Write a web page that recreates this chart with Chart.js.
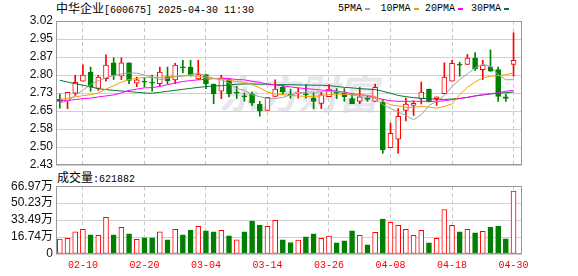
<!DOCTYPE html>
<html>
<head>
<meta charset="utf-8">
<script src="https://cdn.jsdelivr.net/npm/chart.js@4.4.1/dist/chart.umd.min.js"></script>
<style>
body { margin: 0; background: #fff; width: 578px; height: 276px; overflow: hidden; position: relative; }
.txt { position: absolute; white-space: nowrap; color: #000; line-height: 12px; }
.m { font-family: "Liberation Mono", monospace; font-size: 10px; }
.c { font-family: "Noto Sans CJK SC", sans-serif; font-size: 12px; }
.mk { position: absolute; width: 5px; height: 2px; }
#wm { position: absolute; left: 222px; top: 70px; font: bold 40px "Noto Sans CJK SC"; color: #e6e6ec; transform: skewX(-12deg); line-height: 44px; }
canvas { position: absolute; left: 0; }
</style>
</head>
<body>
<div id="wm">东方财富</div>
<div class="txt" style="left:56px;top:2px"><span class="c">中华企业</span><span class="m">[600675] 2025-04-30 11:30</span></div>
<div id="legend"></div>
<div class="txt" id="volTitle" style="left:57px;top:171px"></div>
<canvas id="priceChart" width="578" height="176" style="top:0"></canvas>
<canvas id="volChart" width="578" height="100" style="top:176px"></canvas>
<script>
// trading days 2025-02-05 .. 2025-04-30
var dates = ['02-05','02-06','02-07','02-10','02-11','02-12','02-13','02-14','02-17','02-18',
  '02-19','02-20','02-21','02-24','02-25','02-26','02-27','02-28','03-03','03-04',
  '03-05','03-06','03-07','03-10','03-11','03-12','03-13','03-14','03-17','03-18',
  '03-19','03-20','03-21','03-24','03-25','03-26','03-27','03-28','03-31','04-01',
  '04-02','04-03','04-07','04-08','04-09','04-10','04-11','04-14','04-15','04-16',
  '04-17','04-18','04-21','04-22','04-23','04-24','04-25','04-28','04-29','04-30'];

var open = [2.700, 2.693, 2.724, 2.773, 2.811, 2.744, 2.784, 2.849, 2.794, 2.849,
  2.765, 2.771, 2.770, 2.763, 2.792, 2.779, 2.831, 2.831, 2.783, 2.800,
  2.762, 2.732, 2.780, 2.729, 2.711, 2.721, 2.680, 2.654, 2.711, 2.748,
  2.720, 2.724, 2.721, 2.704, 2.682, 2.710, 2.729, 2.729, 2.702, 2.691,
  2.702, 2.691, 2.688, 2.501, 2.536, 2.654, 2.674, 2.702, 2.741, 2.702,
  2.722, 2.773, 2.842, 2.842, 2.868, 2.821, 2.832, 2.821, 2.709, 2.842];
var high = [2.721, 2.728, 2.798, 2.840, 2.831, 2.798, 2.881, 2.869, 2.869, 2.849,
  2.790, 2.787, 2.798, 2.831, 2.831, 2.847, 2.859, 2.859, 2.859, 2.800,
  2.762, 2.798, 2.780, 2.752, 2.725, 2.729, 2.691, 2.707, 2.779, 2.759,
  2.741, 2.746, 2.759, 2.725, 2.729, 2.759, 2.743, 2.743, 2.721, 2.748,
  2.715, 2.762, 2.698, 2.602, 2.661, 2.704, 2.693, 2.770, 2.741, 2.709,
  2.849, 2.859, 2.851, 2.883, 2.891, 2.859, 2.902, 2.831, 2.721, 2.972];
var low = [2.663, 2.661, 2.715, 2.773, 2.732, 2.736, 2.773, 2.780, 2.780, 2.763,
  2.751, 2.750, 2.732, 2.752, 2.763, 2.763, 2.807, 2.794, 2.780, 2.743,
  2.681, 2.702, 2.709, 2.702, 2.691, 2.674, 2.630, 2.654, 2.711, 2.721,
  2.704, 2.704, 2.704, 2.661, 2.661, 2.710, 2.702, 2.691, 2.681, 2.681,
  2.691, 2.691, 2.478, 2.501, 2.478, 2.611, 2.633, 2.680, 2.688, 2.674,
  2.722, 2.773, 2.794, 2.842, 2.818, 2.780, 2.814, 2.691, 2.691, 2.794];
var close = [2.691, 2.728, 2.769, 2.798, 2.750, 2.790, 2.839, 2.798, 2.849, 2.777,
  2.779, 2.769, 2.765, 2.811, 2.776, 2.839, 2.828, 2.798, 2.800, 2.763,
  2.722, 2.787, 2.721, 2.724, 2.709, 2.684, 2.652, 2.707, 2.741, 2.729,
  2.715, 2.729, 2.718, 2.691, 2.718, 2.741, 2.724, 2.710, 2.681, 2.709,
  2.699, 2.748, 2.492, 2.560, 2.629, 2.680, 2.683, 2.729, 2.688, 2.709,
  2.790, 2.847, 2.839, 2.868, 2.825, 2.839, 2.814, 2.711, 2.703, 2.859];
var prevClose = 2.68;

var volume = [146300, 156000, 218000, 244000, 189000, 185000, 361000, 189000, 263000, 198000,
  146000, 159000, 159000, 218000, 140000, 244000, 189000, 237000, 273000, 228000,
  218000, 234000, 179000, 140000, 218000, 325000, 286000, 273000, 332000, 140000,
  114000, 137000, 169000, 198000, 156000, 176000, 111000, 130000, 228000, 185000,
  91000, 215000, 345000, 312000, 283000, 244000, 185000, 234000, 111000, 156000,
  439000, 283000, 218000, 244000, 208000, 224000, 267000, 276000, 150000, 621882];

var ma5 = [2.684, 2.693, 2.715, 2.737, 2.759, 2.776, 2.787, 2.796, 2.803, 2.807,
  2.806, 2.799, 2.791, 2.780, 2.785, 2.791, 2.795, 2.800, 2.806, 2.794,
  2.785, 2.779, 2.765, 2.743, 2.736, 2.718, 2.710, 2.703, 2.702, 2.707,
  2.718, 2.724, 2.729, 2.729, 2.729, 2.732, 2.731, 2.726, 2.718, 2.710,
  2.707, 2.704, 2.677, 2.661, 2.648, 2.633, 2.615, 2.636, 2.674, 2.691,
  2.715, 2.751, 2.780, 2.803, 2.828, 2.842, 2.835, 2.800, 2.779, 2.780];
var ma10 = [2.699, 2.703, 2.709, 2.714, 2.718, 2.725, 2.741, 2.755, 2.770, 2.780,
  2.785, 2.789, 2.789, 2.789, 2.791, 2.794, 2.795, 2.796, 2.794, 2.787,
  2.784, 2.783, 2.777, 2.772, 2.769, 2.759, 2.746, 2.729, 2.721, 2.718,
  2.715, 2.713, 2.711, 2.711, 2.714, 2.719, 2.721, 2.719, 2.718, 2.717,
  2.715, 2.711, 2.691, 2.677, 2.672, 2.666, 2.666, 2.670, 2.667, 2.663,
  2.670, 2.680, 2.718, 2.748, 2.770, 2.787, 2.794, 2.796, 2.800, 2.807];
var ma20 = [2.693, 2.695, 2.698, 2.702, 2.704, 2.709, 2.713, 2.717, 2.725, 2.736,
  2.741, 2.746, 2.747, 2.752, 2.759, 2.766, 2.772, 2.776, 2.779, 2.781,
  2.784, 2.785, 2.784, 2.780, 2.779, 2.773, 2.768, 2.762, 2.758, 2.754,
  2.750, 2.746, 2.743, 2.740, 2.737, 2.735, 2.733, 2.728, 2.722, 2.718,
  2.714, 2.707, 2.699, 2.693, 2.691, 2.691, 2.691, 2.691, 2.691, 2.691,
  2.693, 2.698, 2.702, 2.707, 2.713, 2.718, 2.722, 2.726, 2.732, 2.736];
var ma30 = [2.777, 2.770, 2.763, 2.757, 2.750, 2.743, 2.739, 2.736, 2.733, 2.731,
  2.728, 2.725, 2.724, 2.728, 2.732, 2.736, 2.740, 2.744, 2.748, 2.751,
  2.754, 2.755, 2.758, 2.761, 2.762, 2.762, 2.761, 2.761, 2.759, 2.759,
  2.759, 2.758, 2.758, 2.757, 2.757, 2.755, 2.752, 2.748, 2.746, 2.743,
  2.741, 2.739, 2.732, 2.724, 2.715, 2.710, 2.706, 2.703, 2.702, 2.699,
  2.699, 2.700, 2.703, 2.707, 2.713, 2.717, 2.721, 2.724, 2.726, 2.729];

var maNames = ['5PMA', '10PMA', '20PMA', '30PMA'];
var maColors = ['#a0a0a0', '#f0a000', '#ff00ff', '#007a33'];

var priceTicks = [2.43, 2.50375, 2.5775, 2.65125, 2.725, 2.79875, 2.8725, 2.94625, 3.02];
var priceTickLabels = ['2.43', '2.50', '2.58', '2.65', '2.73', '2.80', '2.87', '2.95', '3.02'];
var volTicks = [0, 167425, 334850, 502275, 669700];
var volTickLabels = ['0', '16.74万', '33.49万', '50.23万', '66.97万'];
var dateTicks = ['02-10', '02-20', '03-04', '03-14', '03-26', '04-08', '04-18', '04-30'];

var RED = '#ff0000', GREEN = '#008000';
var GRID = '#d0d0d0', FRAME = '#999999';
var tickFont = { family: 'Liberation Sans, Arial, "Noto Sans CJK SC"', size: 12 };

// legend + volume caption
var legendX = [338, 380.5, 425, 471];
var lg = document.getElementById('legend');
maNames.forEach(function (n, k) {
    var t = document.createElement('div');
    t.className = 'txt m';
    t.style.left = legendX[k] + 'px';
    t.style.top = '3px';
    t.textContent = n;
    lg.appendChild(t);
    var m = document.createElement('div');
    m.className = 'mk';
    m.style.left = (legendX[k] + n.length * 6 + 3) + 'px';
    m.style.top = '8px';
    m.style.background = maColors[k];
    lg.appendChild(m);
});
document.getElementById('volTitle').innerHTML =
    '<span class="c">成交量</span><span class="m">:' + volume[volume.length - 1] + '</span>';

var candleUp = close.map(function (c, i) { return c >= open[i]; });
var volUp = close.map(function (c, i) { return c >= (i ? close[i - 1] : prevClose); });

function pts(arr) {
    return arr.map(function (v, i) { return { x: i, y: v }; });
}

var framePlugin = {
    id: 'frame',
    afterDraw: function (chart) {
        var a = chart.chartArea, ctx = chart.ctx;
        ctx.save();
        ctx.strokeStyle = FRAME;
        ctx.lineWidth = 1;
        var l = Math.round(a.left) + 0.5, t = Math.round(a.top) + 0.5;
        var r = Math.round(a.right) - 0.5, b = Math.round(a.bottom) - 0.5;
        ctx.strokeRect(l, t, r - l, b - t);
        ctx.restore();
    }
};

function xScale(showLabels) {
    return {
        type: 'linear',
        offset: false,
        min: -0.5,
        max: 60.1,
        afterBuildTicks: function (scale) {
            scale.ticks = dateTicks.map(function (d) { return { value: dates.indexOf(d) }; });
        },
        afterFit: function (scale) { scale.height = showLabels ? 22 : 0; },
        grid: { color: '#c8c8c8', drawTicks: false, offset: false },
        border: { display: false, dash: [4, 3] },
        ticks: {
            display: showLabels,
            autoSkip: false,
            maxRotation: 0,
            padding: 5,
            color: RED,
            font: { family: 'Liberation Mono, monospace', size: 10 },
            callback: function (v, i) { return dateTicks[i]; }
        }
    };
}

function yScale(min, max, ticks, labels) {
    return {
        min: min,
        max: max,
        afterBuildTicks: function (scale) {
            scale.ticks = ticks.map(function (v) { return { value: v }; });
        },
        afterFit: function (scale) { scale.width = 56; },
        grid: { color: GRID, drawTicks: false },
        border: { display: false },
        ticks: {
            autoSkip: false,
            padding: 3,
            color: '#111',
            font: tickFont,
            callback: function (v, i) { return labels[i]; }
        }
    };
}

var common = {
    responsive: false,
    animation: false,
    events: [],
    devicePixelRatio: 1,
    plugins: { legend: { display: false }, tooltip: { enabled: false } }
};

var priceDatasets = [
    {
        type: 'bar',
        data: low.map(function (v, i) { return { x: i, y: [v, high[i]] }; }),
        backgroundColor: candleUp.map(function (u) { return u ? RED : GREEN; }),
        barThickness: 1,
        grouped: false,
        order: 2
    },
    {
        type: 'bar',
        data: open.map(function (v, i) { return { x: i, y: [v, close[i]] }; }),
        backgroundColor: candleUp.map(function (u) { return u ? '#ffffff' : GREEN; }),
        borderColor: candleUp.map(function (u) { return u ? RED : GREEN; }),
        borderWidth: 1,
        borderSkipped: false,
        barThickness: 5,
        minBarLength: 1,
        grouped: false,
        order: 1
    }
];
[ma5, ma10, ma20, ma30].forEach(function (arr, k) {
    priceDatasets.push({
        type: 'line',
        data: pts(arr),
        borderColor: maColors[k],
        borderWidth: 1,
        pointRadius: 0,
        tension: 0,
        order: 0
    });
});

new Chart(document.getElementById('priceChart'), {
    type: 'bar',
    data: { datasets: priceDatasets },
    options: Object.assign({}, common, {
        layout: { padding: { top: 21, right: 56, bottom: 11, left: 0 } },
        scales: {
            x: xScale(false),
            y: yScale(2.43, 3.02, priceTicks, priceTickLabels)
        }
    }),
    plugins: [framePlugin]
});

new Chart(document.getElementById('volChart'), {
    type: 'bar',
    data: {
        datasets: [{
            data: pts(volume),
            backgroundColor: volUp.map(function (u) { return u ? '#ffffff' : GREEN; }),
            borderColor: volUp.map(function (u) { return u ? RED : GREEN; }),
            borderWidth: 1,
            borderSkipped: false,
            barThickness: 5
        }]
    },
    options: Object.assign({}, common, {
        layout: { padding: { top: 10, right: 56, bottom: 0, left: 0 } },
        scales: {
            x: xScale(true),
            y: yScale(0, 669700, volTicks, volTickLabels)
        }
    }),
    plugins: [framePlugin]
});
</script>
</body>
</html>
